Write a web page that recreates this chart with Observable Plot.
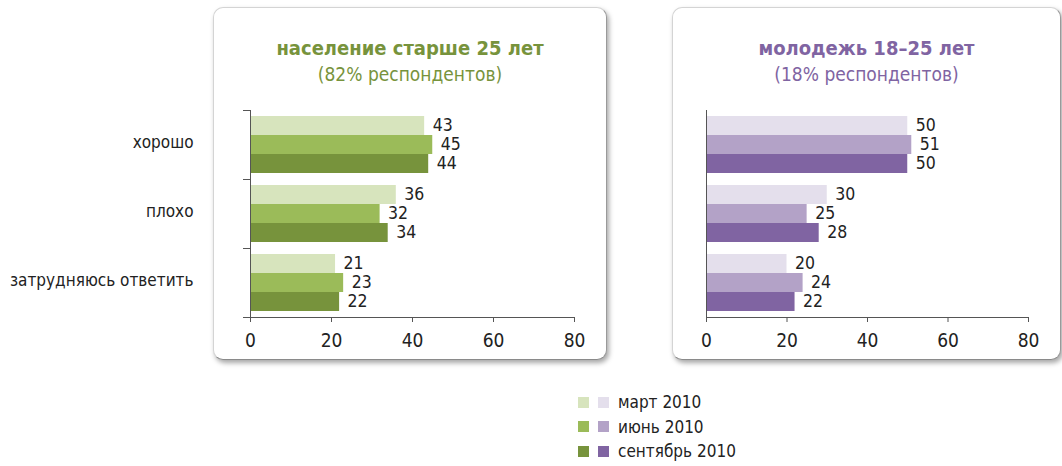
<!DOCTYPE html>
<html><head><meta charset="utf-8">
<script src="https://cdn.jsdelivr.net/npm/d3@7"></script>
<script src="https://cdn.jsdelivr.net/npm/@observablehq/plot@0.6"></script>
<style>
body{margin:0;background:#fff;font-family:"DejaVu Sans Condensed","DejaVu Sans",sans-serif;}
#root{position:relative;width:1062px;height:466px;overflow:hidden;}
.box{position:absolute;box-sizing:border-box;border:1px solid #d4d4d4;border-right-color:#9a9a9a;border-bottom-color:#8a8a8a;border-radius:10px;background:#fff;box-shadow:2px 3px 5px rgba(0,0,0,0.35);}
.title{position:absolute;text-align:center;}
.t1{font-weight:bold;font-size:20px;line-height:26px;}
.t2{font-size:19px;line-height:26px;}
.chart{position:absolute;}
#legend{position:absolute;left:578px;top:390px;font-size:17px;color:#222;}
.row{height:24.5px;display:flex;align-items:center;}
.sq{width:11px;height:11px;margin-right:9px;}
</style></head><body>
<div id="root">
  <div class="box" style="left:213px;top:7px;width:394px;height:353px"></div>
  <div class="box" style="left:672px;top:7px;width:389px;height:353px"></div>
  <div class="title" id="titleL" style="left:213px;width:394px;top:35px;color:#77933c"></div>
  <div class="title" id="titleR" style="left:672px;width:389px;top:35px;color:#8064a2"></div>
  <div class="chart" id="chartL" style="left:0;top:100px"></div>
  <div class="chart" id="chartR" style="left:660px;top:100px"></div>
  <div id="legend"></div>
</div>
<script>
const categories = ["хорошо", "плохо", "затрудняюсь ответить"];
const months = ["март 2010", "июнь 2010", "сентябрь 2010"];
const xTicks = [0, 20, 40, 60, 80];

// население старше 25 лет: values per month, ordered as categories
const olderMarch = [43, 36, 21];
const olderJune = [45, 32, 23];
const olderSept = [44, 34, 22];
// молодежь 18–25 лет
const youthMarch = [50, 30, 20];
const youthJune = [51, 25, 24];
const youthSept = [50, 28, 22];

const greens = ["#d7e4bd", "#9bbb59", "#77933c"];
const purples = ["#e4dfec", "#b3a2c7", "#8064a2"];

const titles = [
  ["население старше 25 лет", "(82% респондентов)"],
  ["молодежь 18–25 лет", "(18% респондентов)"]
];

function rows(series) {
  const out = [];
  categories.forEach((c, i) => months.forEach((m, j) => out.push({category: c, month: m, value: series[j][i]})));
  return out;
}

const FONT = '"DejaVu Sans Condensed","DejaVu Sans",sans-serif';

function chart(series, colors, withLabels, width, marginLeft, marginRight) {
  const data = rows(series);
  const marks = [
    Plot.barX(data, {fy: "category", y: "month", x: "value", fill: "month"}),
    Plot.text(data, {fy: "category", y: "month", x: "value", text: d => String(d.value), textAnchor: "start", dx: 8, dy: -1, fontSize: 17.5, fill: "#222"}),
    Plot.ruleX([0], {stroke: "#555"}),
    Plot.frame({anchor: "bottom", facetAnchor: "bottom", stroke: "#555"}),
    Plot.axisX({ticks: xTicks, tickSize: 5, tickPadding: 11, fontSize: 19, stroke: "#555", fill: "#222", label: null, tickFormat: d => String(d)})
  ];
  if (withLabels) {
    marks.push(Plot.axisFy({anchor: "left", tickSize: 0, tickPadding: 57, dy: -2, fontSize: 17, fill: "#222", label: null}));
    marks.push(Plot.axisFy({anchor: "left", tickSize: 7, fill: "none", stroke: "#555", dy: -34.5, label: null}));
    marks.push(Plot.axisFy({anchor: "left", tickSize: 7, fill: "none", stroke: "#555", dy: 34.5, label: null}));
  }
  return Plot.plot({
    width, height: 260,
    marginLeft, marginRight, marginTop: 10, marginBottom: 43,
    style: {background: "transparent", fontFamily: FONT, color: "#222", overflow: "visible"},
    x: {domain: [0, 80]},
    y: {domain: months, axis: null, paddingInner: 0, paddingOuter: 0.25},
    fy: {domain: categories, padding: 0, axis: null},
    color: {domain: months, range: colors},
    marks
  });
}

document.getElementById("chartL").append(chart([olderMarch, olderJune, olderSept], greens, true, 610, 250, 36));
document.getElementById("chartR").append(chart([youthMarch, youthJune, youthSept], purples, false, 402, 46, 34));

[["titleL", 0], ["titleR", 1]].forEach(([id, k]) => {
  const el = document.getElementById(id);
  const a = document.createElement("div"); a.className = "t1"; a.textContent = titles[k][0];
  const b = document.createElement("div"); b.className = "t2"; b.textContent = titles[k][1];
  el.append(a, b);
});

const legend = document.getElementById("legend");
months.forEach((m, j) => {
  const r = document.createElement("div"); r.className = "row";
  [greens[j], purples[j]].forEach(c => {
    const s = document.createElement("div"); s.className = "sq"; s.style.background = c; r.append(s);
  });
  const t = document.createElement("span"); t.textContent = m; r.append(t);
  legend.append(r);
});
</script>
</body></html>
